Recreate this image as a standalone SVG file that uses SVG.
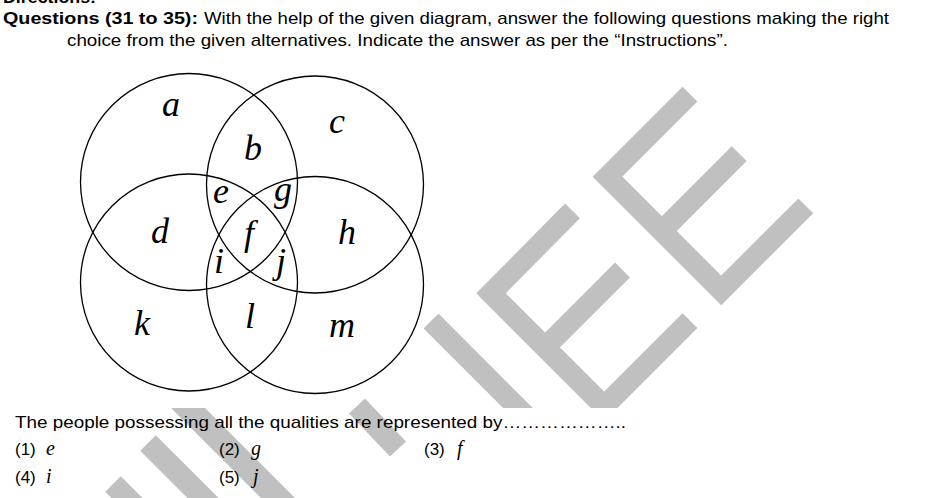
<svg xmlns="http://www.w3.org/2000/svg" width="932" height="498" viewBox="0 0 932 498">
<style>
.t{font-family:"Liberation Sans",Arial,sans-serif;font-size:17px;fill:#000}
.b{font-weight:bold}
.v{font-family:"Liberation Serif","Times New Roman",serif;font-style:italic;font-size:36px;fill:#000;text-anchor:middle}
.o{font-family:"Liberation Serif","Times New Roman",serif;font-style:italic;font-size:20px;fill:#000}
.c{fill:none;stroke:#000;stroke-width:1.3}
.w{fill:none;stroke:#c0c0c0;stroke-width:21;stroke-linejoin:miter;stroke-linecap:butt}
</style>
<defs>
<clipPath id="up"><rect x="0" y="0" width="932" height="408"/></clipPath>
<clipPath id="lo"><rect x="0" y="408" width="932" height="90"/></clipPath>
</defs>
<rect width="932" height="498" fill="#fff"/>
<g id="watermark">
<g clip-path="url(#up)">
<polyline class="w" points="690,94.2 607.5,176.7 721.2,290.4 805.8,205.8"/>
<line class="w" x1="661.9" y1="231" x2="739.2" y2="153.7"/>
<polyline class="w" points="572.5,210.8 491,293.3 604.2,406.5 690,320.6"/>
<line class="w" x1="545.1" y1="347.4" x2="622.5" y2="270"/>
<line class="w" x1="431" y1="321" x2="540" y2="430"/>
</g>
<line class="w" x1="148" y1="443" x2="220" y2="515" style="stroke-width:22"/>
<line class="w" x1="113" y1="484" x2="140" y2="511" style="stroke-width:22"/>
<line class="w" x1="180" y1="400" x2="290" y2="510" style="stroke-width:24" clip-path="url(#lo)"/>
<line class="w" x1="357" y1="406" x2="398" y2="449" style="stroke-width:22"/>
</g>
<g id="header">
<text class="t b" x="3" y="3" textLength="93" lengthAdjust="spacingAndGlyphs">Directions:</text>
<text class="t b" x="3" y="24" textLength="195" lengthAdjust="spacingAndGlyphs">Questions (31 to 35):</text>
<text class="t" x="204" y="24" textLength="685" lengthAdjust="spacingAndGlyphs">With the help of the given diagram, answer the following questions making the right</text>
<text class="t" x="67" y="46" textLength="661" lengthAdjust="spacingAndGlyphs">choice from the given alternatives. Indicate the answer as per the “Instructions”.</text>
</g>
<g id="circles">
<g id="circle-top-left"><circle class="c" cx="189" cy="182" r="108.5"/></g>
<g id="circle-top-right"><circle class="c" cx="315" cy="184.5" r="108.5"/></g>
<g id="circle-bottom-left"><circle class="c" cx="189" cy="282.5" r="108.5"/></g>
<g id="circle-bottom-right"><circle class="c" cx="315" cy="285" r="108.5"/></g>
</g>
<g id="labels">
<text class="v" x="171" y="116">a</text>
<text class="v" x="337" y="133">c</text>
<text class="v" x="253" y="160">b</text>
<text class="v" x="221" y="203">e</text>
<text class="v" x="283" y="201">g</text>
<text class="v" x="160" y="243">d</text>
<text class="v" x="249" y="245">f</text>
<text class="v" x="347" y="244">h</text>
<text class="v" x="219" y="273">i</text>
<text class="v" x="281" y="273">j</text>
<text class="v" x="142" y="335">k</text>
<text class="v" x="250" y="328">l</text>
<text class="v" x="342" y="337">m</text>
</g>
<g id="question">
<text class="t" x="15" y="428" textLength="611" lengthAdjust="spacingAndGlyphs">The people possessing all the qualities are represented by………………..</text>
<text class="t" x="15" y="455">(1)</text><text class="o" x="46" y="455">e</text>
<text class="t" x="219" y="455">(2)</text><text class="o" x="251" y="455">g</text>
<text class="t" x="424" y="455">(3)</text><text class="o" x="457" y="455">f</text>
<text class="t" x="15" y="483">(4)</text><text class="o" x="46" y="483">i</text>
<text class="t" x="219" y="483">(5)</text><text class="o" x="253" y="483">j</text>
</g>
</svg>
